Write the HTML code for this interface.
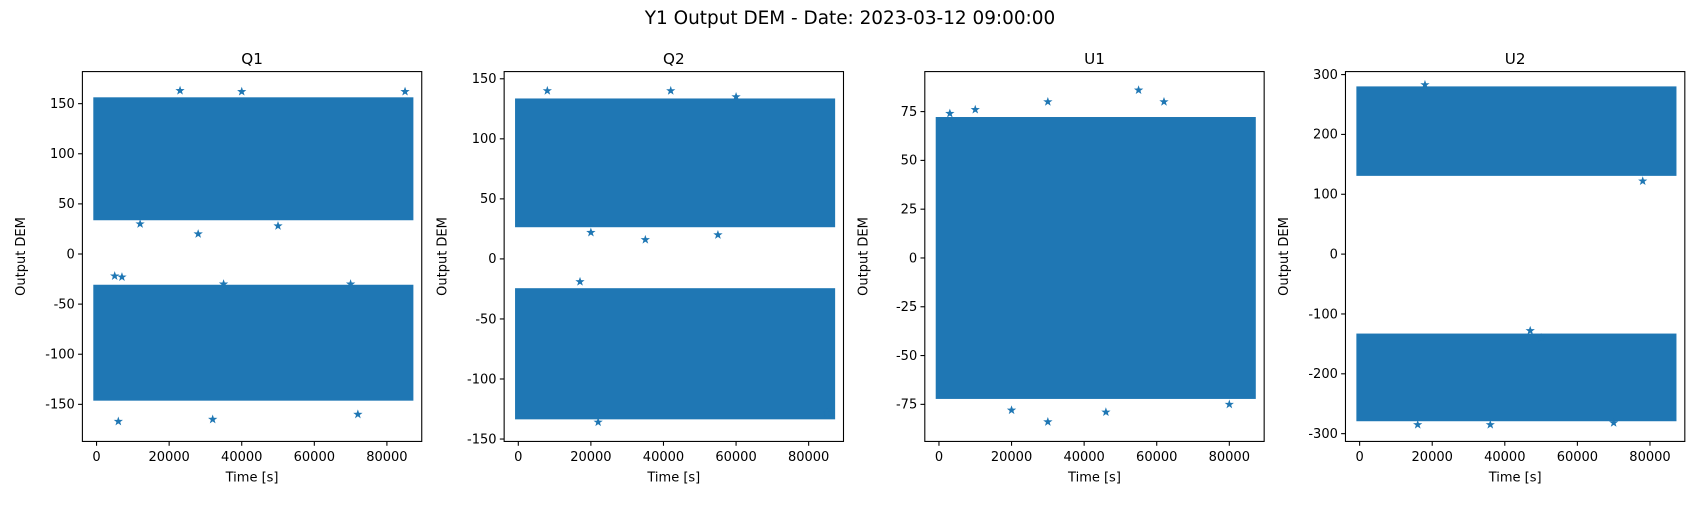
<!DOCTYPE html>
<html><head><meta charset="utf-8"><style>
body{margin:0;background:#fff;font-family:"Liberation Sans","DejaVu Sans",sans-serif}
svg text{font-family:"DejaVu Sans","Liberation Sans",sans-serif;fill:#000}
</style></head><body>
<svg id="fig" width="1700" height="500" viewBox="0 0 1568 461" preserveAspectRatio="none" xmlns="http://www.w3.org/2000/svg">
<text x="784" y="22" text-anchor="middle" font-size="17">Y1 Output DEM - Date: 2023-03-12 09:00:00</text>
</svg>
<script>
const panelTitles=["Q1","Q2","U1","U2"];
const yDomains=[[-187,182],[-152,156],[-94,95.5],[-313,305]];
const yTicks=[[-150,-100,-50,0,50,100,150],[-150,-100,-50,0,50,100,150],[-75,-50,-25,0,25,50,75],[-300,-200,-100,0,100,200,300]];
const xTicks=[0,20000,40000,60000,80000];
const xDomain=[-3900,89600];
const timeRange=[0,86400];
// bands [low, high] per panel
const bandsQ1=[[-142,-35],[38,152]];
const bandsQ2=[[-130,-28],[30,130]];
const bandsU1=[[-70,70]];
const bandsU2=[[-272,-140],[138,273]];
const bands=[bandsQ1,bandsQ2,bandsU1,bandsU2];
// outliers [time, value]
const outQ1=[[5000,-22],[7000,-23],[28000,20],[35000,-30],[70000,-30],[23000,163],[6000,-167],[32000,-165],[40000,162],[72000,-160],[85000,162],[12000,30],[50000,28]];
const outQ2=[[8000,140],[42000,140],[35000,16],[55000,20],[17000,-19],[22000,-136],[20000,22],[85000,-128],[60000,135]];
const outU1=[[55000,86],[30000,-84],[30000,80],[62000,80],[20000,-78],[46000,-79],[3000,74],[80000,-75],[10000,76]];
const outU2=[[78000,122],[47000,-128],[16000,-285],[36000,-285],[18000,283],[50000,-140],[70000,-282]];
const outliers=[outQ1,outQ2,outU1,outU2];
const axLeft=[76,465,853,1241],axW=313,axTop=66,axH=341;
const NS="http://www.w3.org/2000/svg";
const svg=document.getElementById('fig');
function mk(t,a,p){const e=document.createElementNS(NS,t);for(const k in a)e.setAttribute(k,a[k]);(p||svg).appendChild(e);return e;}
function star(cx,cy,r){let p=[];for(let i=0;i<10;i++){const a=-Math.PI/2+i*Math.PI/5,rr=i%2?r*0.4:r;p.push((cx+rr*Math.cos(a)).toFixed(1)+','+(cy+rr*Math.sin(a)).toFixed(1));}return p.join(' ');}
for(let i=0;i<4;i++){
  const L=axLeft[i],yd=yDomains[i];
  const X=v=>L+(v-xDomain[0])/(xDomain[1]-xDomain[0])*axW;
  const Y=v=>axTop+axH-(v-yd[0])/(yd[1]-yd[0])*axH;
  const g=mk('g',{});
  
  
  for(const b of bands[i]){
    const r=mk('rect',{x:X(timeRange[0])-3,y:Y(b[1])-4,width:X(timeRange[1])-X(timeRange[0])+6,height:Y(b[0])-Y(b[1])+8,fill:'#1f77b4'},g);
    
    
  }
  for(const o of outliers[i]){
    const s=mk('polygon',{points:star(X(o[0]),Y(o[1]),4.5),fill:'#1f77b4'},g);
    
    
  }
  const fr=mk('rect',{x:L,y:axTop,width:axW,height:axH,fill:'none',stroke:'#000','stroke-width':1},g);
  
  
  for(const t of xTicks){const x=X(t);mk('line',{x1:x,x2:x,y1:axTop+axH,y2:axTop+axH+4,stroke:'#000'},g);
    const tx=mk('text',{x:x,y:axTop+axH+18,'text-anchor':'middle','font-size':12},g);tx.textContent=t;
    
    }
  for(const t of yTicks[i]){const y=Y(t);mk('line',{x1:L-4,x2:L,y1:y,y2:y,stroke:'#000'},g);
    const tx=mk('text',{x:L-7,y:y+4,'text-anchor':'end','font-size':12},g);tx.textContent=t;
    
    }
  const tt=mk('text',{x:L+axW/2,y:59,'text-anchor':'middle','font-size':14},g);tt.textContent=panelTitles[i];
  
  
  const xl=mk('text',{x:L+axW/2,y:444,'text-anchor':'middle','font-size':12},g);xl.textContent='Time [s]';
  
  
  const yl=mk('text',{x:0,y:0,'text-anchor':'middle','font-size':12,transform:`translate(${L-53},${axTop+axH/2}) rotate(-90)`},g);yl.textContent='Output DEM';
  
  
}
</script>
</body></html>
